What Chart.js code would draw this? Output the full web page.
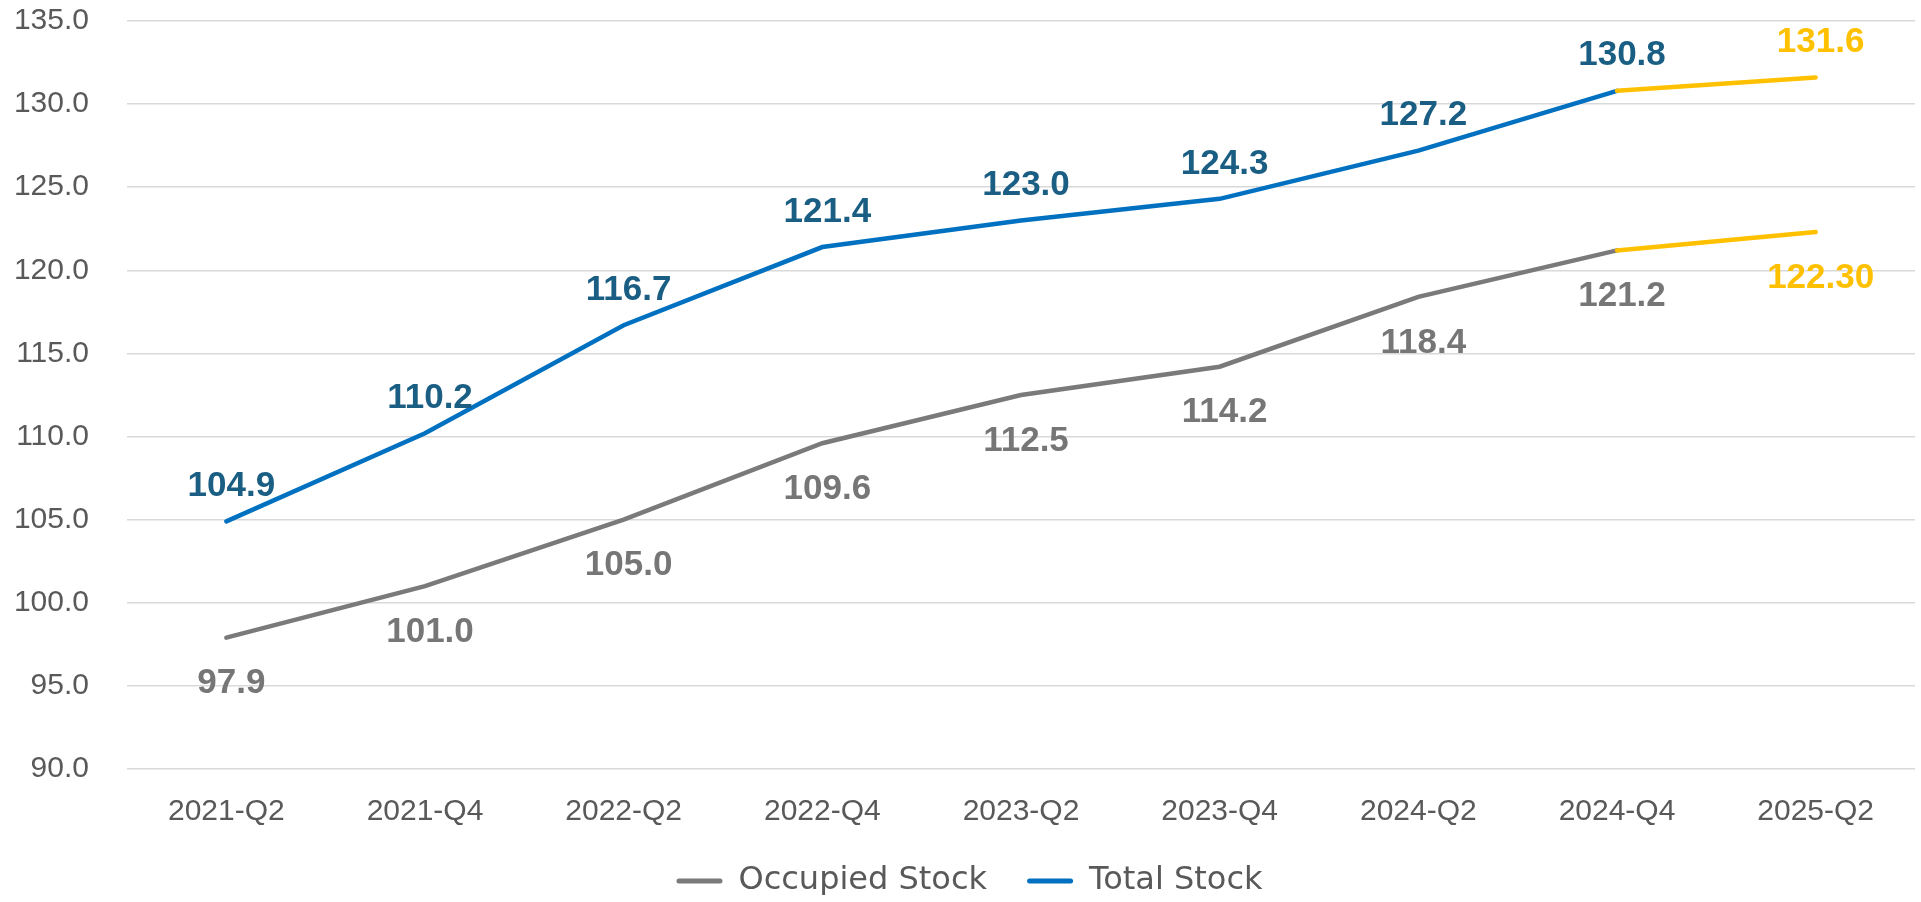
<!DOCTYPE html>
<html>
<head>
<meta charset="utf-8">
<script src="https://cdn.jsdelivr.net/npm/chart.js@4.4.1/dist/chart.umd.min.js"></script>
<style>
  html, body { margin: 0; padding: 0; background: #fff; }
  #wrap { width: 1921px; height: 902px; }
</style>
</head>
<body>
<div id="wrap"><canvas id="stockChart"></canvas></div>
<script>
const quarters = ["2021-Q2", "2021-Q4", "2022-Q2", "2022-Q4", "2023-Q2", "2023-Q4", "2024-Q2", "2024-Q4", "2025-Q2"];
const occupiedStock = [97.9, 101.0, 105.0, 109.6, 112.5, 114.2, 118.4, 121.2, 122.3];
const totalStock = [104.9, 110.2, 116.7, 121.4, 123.0, 124.3, 127.2, 130.8, 131.6];
// the last point is a forecast, shown in yellow
const occupiedLabels = ["97.9", "101.0", "105.0", "109.6", "112.5", "114.2", "118.4", "121.2", "122.30"];
const totalLabels = ["104.9", "110.2", "116.7", "121.4", "123.0", "124.3", "127.2", "130.8", "131.6"];

const GREY = "#7a7a7a";
const BLUE = "#0070C0";
const YELLOW = "#FFC000";
const lastIdx = quarters.length - 1;

// value labels above / below each point
const valueLabels = {
  id: "valueLabels",
  afterDatasetsDraw(chart) {
    const ctx = chart.ctx;
    ctx.save();
    ctx.font = "bold 35px 'Liberation Sans', Arial, sans-serif";
    ctx.textAlign = "center";
    ctx.textBaseline = "middle";
    chart.data.datasets.forEach((ds, di) => {
      const meta = chart.getDatasetMeta(di);
      meta.data.forEach((pt, i) => {
        ctx.fillStyle = i === lastIdx ? YELLOW : ds.labelColor;
        ctx.fillText(ds.valueText[i], pt.x + 5, pt.y + ds.labelOffset);
      });
    });
    ctx.restore();
  },
};

// nudge the legend to where the original sits
const legendShift = {
  id: "legendShift",
  afterLayout(chart) {
    const lg = chart.legend;
    lg.left += 12; lg.right += 12;
    lg.top -= 3; lg.bottom -= 3;
  },
};

const ctx = document.getElementById("stockChart").getContext("2d");
new Chart(ctx, {
  type: "line",
  data: {
    labels: quarters,
    datasets: [
      {
        label: "Occupied Stock",
        data: occupiedStock,
        valueText: occupiedLabels,
        labelColor: "#767676",
        labelOffset: 46,
        borderColor: GREY,
        backgroundColor: GREY,
        borderWidth: 4.5,
        borderCapStyle: "round",
        pointRadius: 0,
        tension: 0,
        segment: { borderColor: (c) => (c.p1DataIndex === lastIdx ? YELLOW : undefined) },
      },
      {
        label: "Total Stock",
        data: totalStock,
        valueText: totalLabels,
        labelColor: "#1B5E84",
        labelOffset: -35,
        borderColor: BLUE,
        backgroundColor: BLUE,
        borderWidth: 4.5,
        borderCapStyle: "round",
        pointRadius: 0,
        tension: 0,
        segment: { borderColor: (c) => (c.p1DataIndex === lastIdx ? YELLOW : undefined) },
      },
    ],
  },
  options: {
    responsive: true,
    maintainAspectRatio: false,
    animation: false,
    layout: { padding: { top: 21, right: 6, left: 0, bottom: 4 } },
    plugins: {
      tooltip: { enabled: false },
      legend: {
        position: "bottom",
        maxHeight: 70,
        labels: {
          color: "#595959",
          font: { family: "'DejaVu Sans', sans-serif", size: 32 },
          boxWidth: 46,
          boxHeight: 5,
          padding: 40,
          generateLabels(chart) {
            const items = Chart.defaults.plugins.legend.labels.generateLabels(chart);
            items.forEach((it) => {
              it.lineWidth = 0;
              it.borderRadius = 2.5;
            });
            return items;
          },
        },
      },
    },
    scales: {
      x: {
        offset: true,
        afterFit(scale) { scale.height = 59; },
        grid: { display: false, drawTicks: false },
        border: { display: false },
        ticks: {
          color: "#595959",
          padding: 25,
          maxRotation: 0,
          font: { family: "'Liberation Sans', Arial, sans-serif", size: 30 },
        },
      },
      y: {
        min: 90,
        max: 135,
        afterFit(scale) {
          scale.width = 127;
          // tick padding would otherwise also push the plot down from the top
          scale.paddingTop = 0;
          scale.paddingBottom = 0;
        },
        grid: { color: "#d9d9d9", lineWidth: 1.5, drawTicks: false },
        border: { display: false },
        ticks: {
          stepSize: 5,
          padding: 38,
          color: "#595959",
          font: { family: "'Liberation Sans', Arial, sans-serif", size: 30 },
          callback: (v) => v.toFixed(1),
        },
      },
    },
  },
  plugins: [valueLabels, legendShift],
});
</script>
</body>
</html>
